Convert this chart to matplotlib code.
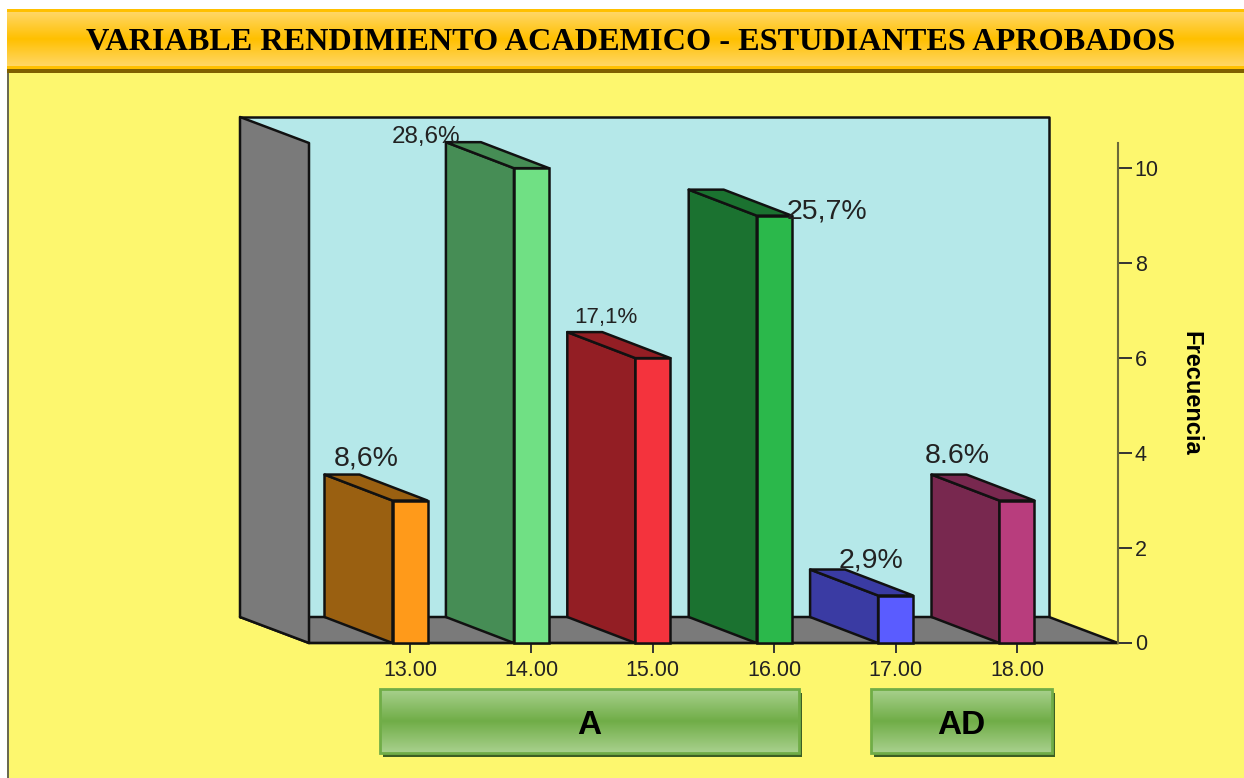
import numpy as np
import matplotlib
matplotlib.use("Agg")
import matplotlib.pyplot as plt
from matplotlib.patches import Polygon, Rectangle
from matplotlib.colors import LinearSegmentedColormap
from matplotlib.transforms import Affine2D

categories = [13, 14, 15, 16, 17, 18]
tick_labels = ["13.00", "14.00", "15.00", "16.00", "17.00", "18.00"]
frequencies = [3, 10, 6, 9, 1, 3]
percent_labels = ["8,6%", "28,6%", "17,1%", "25,7%", "2,9%", "8.6%"]
y_ticks = [0, 2, 4, 6, 8, 10]
front_colors = ["#FF9A1A", "#70E084", "#F4333D", "#2BB84B", "#5A5CFF", "#B83D7D"]
side_colors = ["#9A6011", "#468D55", "#931E24", "#1B7230", "#3A3BA3", "#78284F"]

title = "VARIABLE RENDIMIENTO ACADEMICO - ESTUDIANTES APROBADOS"
group_labels = ["A", "AD"]

W, H = 1244, 778
YELLOW = "#FDF76E"


def gradient(ax, x0, x1, y0, y1, colors):
    cmap = LinearSegmentedColormap.from_list("g", colors)
    ax.imshow(np.linspace(0, 1, 256).reshape(-1, 1), cmap=cmap, aspect="auto",
              extent=(x0, x1, y1, y0), zorder=2)


fig = plt.figure(figsize=(W / 100, H / 100), dpi=100, facecolor="white")

# page furniture, in pixel coordinates
bg = fig.add_axes([0, 0, 1, 1])
bg.set_xlim(0, W)
bg.set_ylim(H, 0)
bg.axis("off")
bg.add_patch(Rectangle((7, 70), W - 7, H - 70, fc=YELLOW, ec="none", zorder=1))
bg.add_patch(Rectangle((7, 70), 2, H - 70, fc="#6a6a50", ec="none", zorder=3))
gradient(bg, 7, W, 12, 66, ["#FFD766", "#FFC000", "#FFD766"])
bg.add_patch(Rectangle((7, 9), W - 7, 3, fc="#FFC000", ec="none", zorder=3))
bg.add_patch(Rectangle((7, 66), W - 7, 3, fc="#FFC000", ec="none", zorder=3))
bg.add_patch(Rectangle((7, 69), W - 7, 4, fc="#7F6000", ec="none", zorder=3))
bg.text(631, 42, title, family="Liberation Serif", weight="bold", fontsize=23.2,
        ha="center", va="center", color="black", zorder=4)

for label, (x0, x1) in zip(group_labels, [(380, 799), (871, 1052)]):
    bg.add_patch(Rectangle((x0 + 3, 693), x1 - x0, 64, fc="#3D5F23", ec="none", zorder=2))
    gradient(bg, x0, x1, 689, 753, ["#A9D18E", "#70AD47", "#A9D18E"])
    bg.add_patch(Rectangle((x0, 689), x1 - x0, 64, fc="none", ec="#70AD47", lw=2, zorder=3))
    bg.text((x0 + x1) / 2 - 0.5, 726, label, family="Liberation Sans", weight="bold",
            fontsize=24, ha="center", va="center", zorder=4)
bg.set_xlim(0, W)
bg.set_ylim(H, 0)

# chart axes: front plane of the 3D box
left, right, top, bottom = 309, 1118, 143, 643
ax = fig.add_axes([left / W, 1 - bottom / H, (right - left) / W, (bottom - top) / H])
ax.patch.set_alpha(0)
ax.set_xlim(12.168, 18.832)
ax.set_ylim(0, 10.53)

x_scale = (right - left) / (ax.get_xlim()[1] - ax.get_xlim()[0])
y_scale = (bottom - top) / ax.get_ylim()[1]
dx = 69 / x_scale
bar_dx = 68 / x_scale
dy = 26 / y_scale
bar_w = 35 / x_scale
x_lo, x_hi = ax.get_xlim()
y_hi = ax.get_ylim()[1]
edge = dict(ec="#111111", lw=1.8, joinstyle="round", clip_on=False)


def poly(points, color, z):
    ax.add_patch(Polygon(points, closed=True, fc=color, zorder=z, **edge))


# back wall, floor, left wall
poly([(x_lo - dx, dy), (x_hi - dx, dy), (x_hi - dx, y_hi + dy), (x_lo - dx, y_hi + dy)], "#B5E8E9", 1)
poly([(x_lo, 0), (x_hi, 0), (x_hi - dx, dy), (x_lo - dx, dy)], "#7A7A7A", 1.1)
poly([(x_lo, 0), (x_lo, y_hi), (x_lo - dx, y_hi + dy), (x_lo - dx, dy)], "#7A7A7A", 1.2)

for i, (x, v) in enumerate(zip(categories, frequencies)):
    x0, x1 = x - bar_w / 2, x + bar_w / 2
    z = 2 + i * 0.1
    poly([(x0, 0), (x0, v), (x0 - bar_dx, v + dy), (x0 - bar_dx, dy)], side_colors[i], z)
    poly([(x0, v), (x1, v), (x1 - bar_dx, v + dy), (x0 - bar_dx, v + dy)], side_colors[i], z)
    ax.bar(x, v, width=bar_w, color=front_colors[i], zorder=z + 0.01, clip_on=False,
           edgecolor="#111111", linewidth=1.8)

# the percent labels sit by hand in the source, offsets are in pixels from the bar top
label_sizes = [20.5, 17.5, 16, 20.5, 20.5, 20.5]
label_dx = [-76, -140, -79, 12, -57, -92]
label_dy = [42, 31, 41, 4, 35, 45]
for i, (x, v) in enumerate(zip(categories, frequencies)):
    ax.annotate(percent_labels[i], (x, v), xytext=(label_dx[i] * 0.72, label_dy[i] * 0.72),
                textcoords="offset points", family="Liberation Sans", fontsize=label_sizes[i],
                color="#222222", ha="left", va="center", zorder=10, annotation_clip=False)

for s in ("left", "top"):
    ax.spines[s].set_visible(False)
ax.spines["bottom"].set_color("#111111")
ax.spines["bottom"].set_linewidth(1.6)
ax.spines["bottom"].set_zorder(1.5)
ax.spines["right"].set_color("#6b6a3a")
ax.spines["right"].set_linewidth(1.5)

ax.set_xticks(categories, tick_labels, family="Liberation Sans", fontsize=15.5)
ax.yaxis.tick_right()
ax.set_yticks(y_ticks, [str(t) for t in y_ticks], family="Liberation Sans", fontsize=15.5)
ax.tick_params(axis="x", length=7, width=1.4, color="#333333", labelcolor="#222222", pad=5)
ax.tick_params(axis="y", length=10, width=1.4, color="#333333", labelcolor="#222222", pad=2)
for lab in ax.get_yticklabels():
    lab.set_verticalalignment("center")
    lab.set_transform(lab.get_transform() + Affine2D().translate(0, -2))

bg.text(1191, 393.5, "Frecuencia", family="Liberation Sans", weight="bold", fontsize=17,
        rotation=-90, ha="center", va="center", zorder=5)

fig.savefig("out.png", dpi=100)
